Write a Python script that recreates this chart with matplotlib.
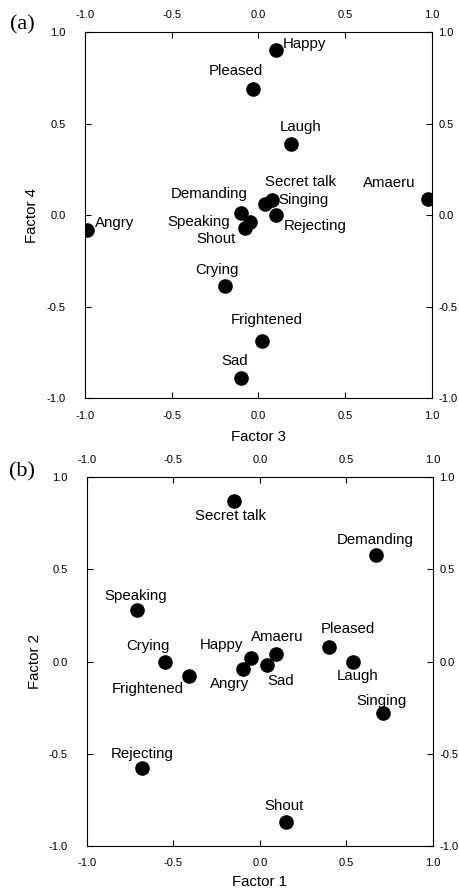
import matplotlib.pyplot as plt

plt.rcParams['font.family'] = ['Liberation Sans', 'DejaVu Sans']

# panel (a): Factor 3 vs Factor 4
names_a = ['Happy', 'Pleased', 'Laugh', 'Secret talk', 'Singing', 'Amaeru',
           'Demanding', 'Rejecting', 'Speaking', 'Shout', 'Angry', 'Crying',
           'Frightened', 'Sad']
f3 = [0.10, -0.03, 0.19, 0.04, 0.08, 0.98,
      -0.10, 0.10, -0.05, -0.08, -0.99, -0.19,
      0.02, -0.10]
f4 = [0.90, 0.69, 0.39, 0.06, 0.08, 0.09,
      0.01, 0.00, -0.04, -0.07, -0.08, -0.39,
      -0.69, -0.89]
# label offsets in pixels (dx, dy, ha)
lab_a = [(7, 6, 'left'), (-17, 18, 'center'), (9, 17, 'center'),
         (35, 22, 'center'), (6, 0, 'left'), (-13, 16, 'right'),
         (-32, 19, 'center'), (8, -11, 'left'), (-20, 0, 'right'),
         (-9, -11, 'right'), (8, 7, 'left'), (-9, 16, 'center'),
         (5, 21, 'center'), (-6, 17, 'center')]

# panel (b): Factor 1 vs Factor 2
names_b = ['Secret talk', 'Demanding', 'Speaking', 'Crying', 'Frightened',
           'Happy', 'Angry', 'Amaeru', 'Sad', 'Pleased', 'Laugh', 'Singing',
           'Rejecting', 'Shout']
f1 = [-0.15, 0.67, -0.71, -0.55, -0.41,
      -0.05, -0.10, 0.09, 0.04, 0.40, 0.54, 0.71,
      -0.68, 0.15]
f2 = [0.87, 0.58, 0.28, 0.00, -0.08,
      0.02, -0.04, 0.04, -0.02, 0.08, 0.00, -0.28,
      -0.58, -0.87]
lab_b = [(-4, -15, 'center'), (-1, 15, 'center'), (-1, 14, 'center'),
         (-17, 16, 'center'), (-41, -13, 'center'), (-30, 13, 'center'),
         (-13, -15, 'center'), (2, 17, 'center'), (14, -16, 'center'),
         (19, 18, 'center'), (4, -14, 'center'), (-1, 12, 'center'),
         (0, 14, 'center'), (-2, 16, 'center')]

ticks = [-1.0, -0.5, 0.0, 0.5, 1.0]
tick_labels = ['-1.0', '-0.5', '0.0', '0.5', '1.0']

fig = plt.figure(figsize=(4.59, 8.89), dpi=100)
ax_a = fig.add_axes([0.185, 0.5523, 0.756, 0.4117])
ax_b = fig.add_axes([0.1895, 0.0484, 0.7538, 0.415])


def panel(ax, xs, ys, names, labs, xlab, ylab, xlc, ylc):
    ax.plot(xs, ys, 'o', color='black', ms=9.5, ls='none')
    for x, y, n, (dx, dy, ha) in zip(xs, ys, names, labs):
        ax.annotate(n, (x, y), xytext=(dx, dy), textcoords='offset pixels',
                    ha=ha, va='center', fontsize=10.8)
    ax.set_xlim(-1, 1)
    ax.set_ylim(-1, 1)
    ax.set_xticks(ticks, tick_labels)
    ax.set_yticks(ticks, tick_labels)
    ax.tick_params(direction='in', length=4, width=0.8, labelsize=8,
                   top=True, right=True, labeltop=True, labelright=False)
    ax.tick_params(axis='y', pad=14)
    ax.tick_params(axis='x', pad=9)
    # right-hand labels sit closer to the frame than the left ones
    sec = ax.secondary_yaxis('right')
    sec.set_yticks(ticks, tick_labels)
    sec.tick_params(direction='in', length=0, labelsize=8, pad=4.5)
    sec.spines['right'].set_visible(False)
    for s in ax.spines.values():
        s.set_linewidth(0.8)
    ax.set_xlabel(xlab, fontsize=10.8)
    ax.set_ylabel(ylab, fontsize=10.8)
    ax.xaxis.set_label_coords(0.5, xlc)
    ax.yaxis.set_label_coords(ylc, 0.5)


panel(ax_a, f3, f4, names_a, lab_a, 'Factor 3', 'Factor 4', -0.087, -0.133)
panel(ax_b, f1, f2, names_b, lab_b, 'Factor 1', 'Factor 2', -0.079, -0.13)

fig.text(22 / 459, 1 - 25 / 889, '(a)', family='Liberation Serif',
         fontsize=16, ha='center', va='center')
fig.text(22 / 459, 1 - 472 / 889, '(b)', family='Liberation Serif',
         fontsize=16, ha='center', va='center')

fig.savefig('out.png', dpi=100)
